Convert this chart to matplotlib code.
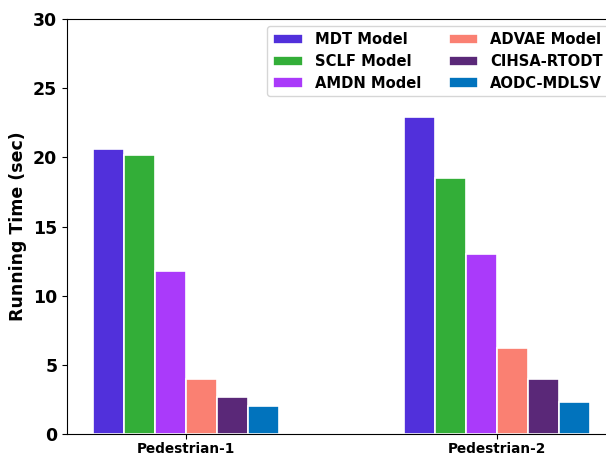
import matplotlib
matplotlib.use("Agg")
import matplotlib.pyplot as plt
import numpy as np

categories = ["Pedestrian-1", "Pedestrian-2"]
models = ["MDT Model", "SCLF Model", "AMDN Model", "ADVAE Model", "CIHSA-RTODT", "AODC-MDLSV"]
mdt = [20.6, 22.9]
sclf = [20.2, 18.5]
amdn = [11.8, 13.0]
advae = [4.0, 6.2]
cihsa = [2.7, 4.0]
aodc = [2.0, 2.3]
values = [mdt, sclf, amdn, advae, cihsa, aodc]
colors = ["#5130DB", "#33AE38", "#AA3AFA", "#FA8072", "#5A2878", "#0173BD"]

fig = plt.figure(figsize=(6.06, 4.55), dpi=100)
ax = fig.add_axes([67/606, 21/455, 549/606, 415/455])

x = np.arange(len(categories))
w = 0.1
for i, (m, v, c) in enumerate(zip(models, values, colors)):
    ax.bar(x + (i - 2.5) * w, v, w, color=c, edgecolor="white", linewidth=1.2, label=m)

ax.set_xlim(-0.383, 1.383)
ax.set_ylim(0, 30)
ax.set_xticks(x)
ax.set_xticklabels(categories, fontweight="bold", fontsize=9.8)
ax.tick_params(axis="x", pad=2.5)
ax.set_yticks([0, 5, 10, 15, 20, 25, 30])
for lab in ax.get_yticklabels():
    lab.set_fontweight("bold")
    lab.set_fontsize(12.5)
ax.set_ylabel("Running Time (sec)", fontweight="bold", fontsize=12.5)

ax.legend(ncol=2, loc="upper right", bbox_to_anchor=(1.0, 1.0),
          prop={"weight": "bold", "size": 10.6}, columnspacing=1.9,
          labelspacing=0.45)

fig.savefig("out.png", dpi=100)
